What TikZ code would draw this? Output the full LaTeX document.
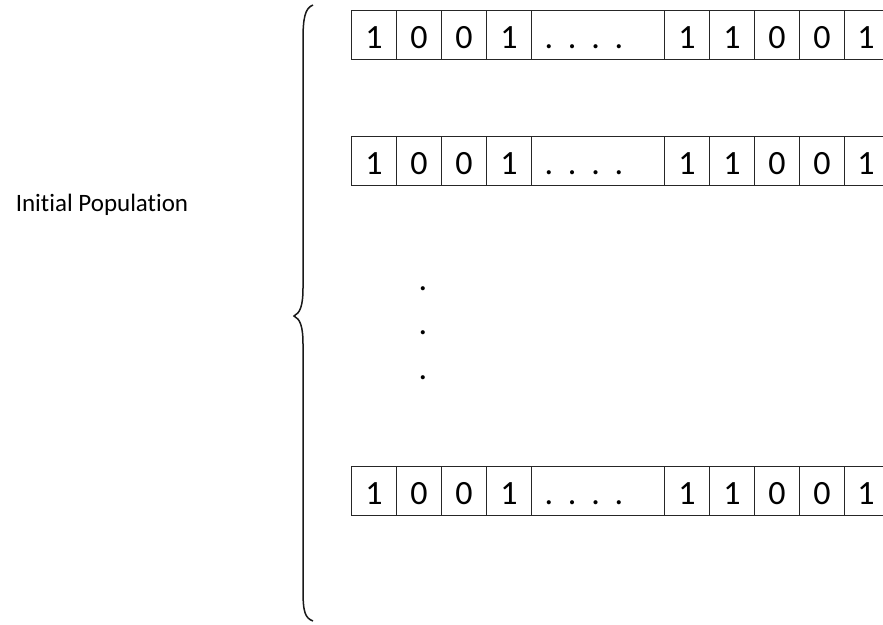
\documentclass[tikz,border=0pt]{standalone}
\usepackage{fontspec}
\setmainfont[Ligatures={NoCommon,NoRequired,NoContextual}]{Carlito}
\begin{document}
\begin{tikzpicture}[x=1pt,y=-1pt,
  cell/.style={draw=black!85,line width=1pt,rectangle,inner sep=0pt,outer sep=0pt,
    minimum height=49pt,text height=27pt,text depth=0pt,
    font=\fontsize{34}{40}\selectfont,anchor=north west},
  bit/.style={cell,minimum width=45pt},
  gap/.style={cell,minimum width=133pt},
  lastbit/.style={cell,draw=none,minimum width=38pt},
  vdot/.style={inner sep=0pt,anchor=base,font=\fontsize{34}{40}\selectfont},
  lbl/.style={inner sep=0pt,font=\fontsize{25}{30}\selectfont}]
\useasboundingbox (0,0) rectangle (883,624);
\fill[white] (0,0) rectangle (883,624);
% rows of chromosomes
\foreach \r/\y in {1/10,2/136,3/466}{
  \node[bit] (r\r c1) at (351.5,\y) {1};
  \node[bit] (r\r c2) at (r\r c1.north east) {0};
  \node[bit] (r\r c3) at (r\r c2.north east) {0};
  \node[bit] (r\r c4) at (r\r c3.north east) {1};
  \node[gap] (r\r c5) at (r\r c4.north east) {.\kern14.8pt.\kern14.8pt.\kern14.8pt.\kern28pt};
  \node[bit] (r\r c6) at (r\r c5.north east) {1};
  \node[bit] (r\r c7) at (r\r c6.north east) {1};
  \node[bit] (r\r c8) at (r\r c7.north east) {0};
  \node[bit] (r\r c9) at (r\r c8.north east) {0};
  \node[lastbit] (r\r c10) at (r\r c9.north east) {\kern5pt 1};
  \draw[draw=black!85,line width=1pt] (r\r c10.north east) -- (r\r c10.north west)
    -- (r\r c10.south west) -- (r\r c10.south east);
}
% vertical ellipsis
\node[vdot] (vd1) at (423,290.5) {.};
\node[vdot] (vd2) at (423,334.5) {.};
\node[vdot] (vd3) at (423,379.5) {.};
% label
\node[lbl] (label) at (102,205) {Initial Population};
% brace
\coordinate (btop) at (313,5);
\coordinate (btip) at (294,316);
\coordinate (bbot) at (313,621);
\draw[line width=1.5pt,black!90]
  (btop) .. controls (305,8) and (303,18) .. (303,40)
  -- (303,288) .. controls (303,306) and (300,313) .. (btip)
  .. controls (300,319) and (303,326) .. (303,344)
  -- (303,590) .. controls (303,612) and (305,618) .. (bbot);
\end{tikzpicture}
\end{document}
